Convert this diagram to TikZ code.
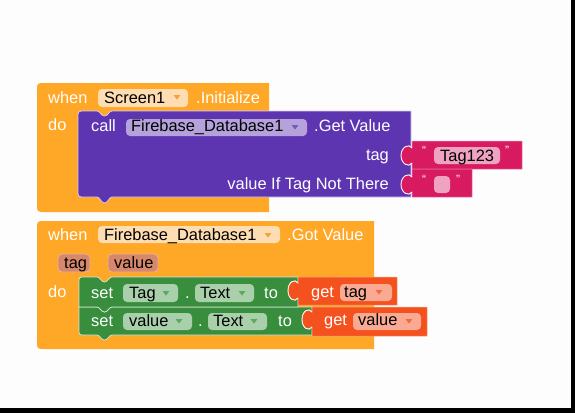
\documentclass[tikz,border=0pt]{standalone}
\usepackage{fontspec}
\setmainfont{Liberation Sans}
\newcommand\blkfont{\fontsize{16.4}{18}\selectfont}
\newcommand\qfont{\fontsize{12}{12}\selectfont}
\definecolor{bgc}{HTML}{FDFDFD}
\definecolor{orng}{HTML}{FFA726}
\definecolor{orngfld}{HTML}{FFDDB2}
\definecolor{orngarr}{HTML}{F6A238}
\definecolor{purp}{HTML}{5E35B1}
\definecolor{purpbd}{HTML}{D6CCF0}
\definecolor{purpfld}{HTML}{B5A2DB}
\definecolor{purparr}{HTML}{7857C2}
\definecolor{pnk}{HTML}{D81B60}
\definecolor{pnkbd}{HTML}{F08AB0}
\definecolor{pnkfld}{HTML}{F0A3C0}
\definecolor{grn}{HTML}{388E3C}
\definecolor{grnbd}{HTML}{D4E8D5}
\definecolor{grnfld}{HTML}{A9D0AB}
\definecolor{grnarr}{HTML}{5DA861}
\definecolor{dorg}{HTML}{F4511E}
\definecolor{dorgbd}{HTML}{FBA88C}
\definecolor{dorgfld}{HTML}{FAAA92}
\definecolor{dorgarr}{HTML}{F26A3E}
\definecolor{chipc}{HTML}{D7876A}
\definecolor{chipbd}{HTML}{EDB49C}
\newcommand\darr[3]{\fill[#1] (#2-3.5,#3-2) -- (#2+3.5,#3-2) -- (#2,#3+2.5) -- cycle;}
\begin{document}
\begin{tikzpicture}[x=1pt,y=-1pt,
  lbl/.style={text=white, inner sep=0pt, anchor=base west, font=\blkfont},
  lblr/.style={text=white, inner sep=0pt, anchor=base east, font=\blkfont},
  ftx/.style={text=black, inner sep=0pt, anchor=base west, font=\blkfont},
  qt/.style={text=white, inner sep=0pt, anchor=north west, font=\qfont},
  fld/.style={rounded corners=4pt},
  tabhl/.style={draw=white, line width=0.8pt}]
\useasboundingbox (0,0) rectangle (575,413);
\fill[bgc] (0,0) rectangle (575,413);
\fill[black] (570.5,0) rectangle (575,413);
\fill[black] (0,408) rectangle (575,413);

% ---------- Block 1 ----------
\fill[orng] (269,83) -- (45,83) .. controls (37,83) .. (37,91) -- (37,204) .. controls (37,212) .. (45,212) -- (269,212) -- cycle;
\fill[orngfld, fld] (98,89) rectangle (188,107);
\darr{orngarr}{177}{97}
\node[lbl] (w1) at (48,103) {when};
\node[ftx] (s1) at (104,103) {Screen1};
\node[lbl] (i1) at (196,103) {.Initialize};
\node[lbl] (d1) at (48,130) {do};

\filldraw[fill=purp, draw=purpbd, line width=0.8pt] (411,111) -- (112,111) .. controls (109,111) and (108,116) .. (104.5,116) .. controls (101,116) and (100,111) .. (97,111) -- (85,111) .. controls (78,111) .. (78,118) -- (78,190) .. controls (78,197) .. (85,197) -- (97,197) .. controls (100,197) and (101,203) .. (104.5,203) .. controls (108,203) and (109,197) .. (112,197) -- (411,197) -- cycle;
\fill[purpfld, fld] (126,119) rectangle (307,136);
\darr{purparr}{295}{127}
\node[lbl] (c1) at (91,131) {call};
\node[ftx] (f1) at (131,131) {Firebase\_Database1};
\node[lbl] (g1) at (314,131) {.Get Value};
\node[lblr] (tg) at (389,160) {tag};
\node[lblr] (vt) at (389,189) {value If Tag Not There};

% pink text blocks
\filldraw[fill=pnk, draw=pnkbd, line width=0.5pt] (412,141) -- (522,141) -- (522,169) -- (412,169) -- (412,163) .. controls (409,168) and (401,164) .. (401,155.5) .. controls (401,147) and (409,143) .. (412,148) -- cycle;
\draw[tabhl] (412,163) .. controls (409,168) and (401,164) .. (401,155.5) .. controls (401,147) and (409,143) .. (412,148);
\fill[pnkfld, fld] (434,147) rectangle (500,164);
\node[qt] (q1) at (422,146.5) {“};
\node[ftx] (t123) at (440,161) {Tag123};
\node[qt] (q2) at (505,146.5) {”};

\filldraw[fill=pnk, draw=pnkbd, line width=0.5pt] (412,169) -- (472,169) -- (472,197) -- (412,197) -- (412,192) .. controls (409,197) and (401,193) .. (401,184.5) .. controls (401,176) and (409,172) .. (412,177) -- cycle;
\draw[tabhl] (412,192) .. controls (409,197) and (401,193) .. (401,184.5) .. controls (401,176) and (409,172) .. (412,177);
\fill[pnkfld, fld] (434,176) rectangle (450,193);
\node[qt] (q3) at (422,175.5) {“};
\node[qt] (q4) at (456,175.5) {”};

% ---------- Block 2 ----------
\fill[orng] (374,221) -- (45,221) .. controls (37,221) .. (37,229) -- (37,341) .. controls (37,349) .. (45,349) -- (374,349) -- cycle;
\fill[orngfld, fld] (98,226) rectangle (280,243);
\darr{orngarr}{268}{235}
\node[lbl] (w2) at (48,240) {when};
\node[ftx] (f2) at (104,240) {Firebase\_Database1};
\node[lbl] (gv) at (287,240) {.Got Value};
\filldraw[fill=chipc, draw=chipbd, line width=0.8pt, fld] (58,254) rectangle (90,272);
\node[ftx] (p1) at (64,268) {tag};
\filldraw[fill=chipc, draw=chipbd, line width=0.8pt, fld] (108,254) rectangle (158,272);
\node[ftx] (p2) at (114,268) {value};
\node[lbl] (d2) at (48,297) {do};

% set 2 (drawn first)
\filldraw[fill=grn, draw=grnbd, line width=0.7pt] (312,307) -- (112,307) .. controls (109,307) and (108,312) .. (104.5,312) .. controls (101,312) and (100,307) .. (97,307) -- (79,307) -- (79,329) .. controls (79,335) .. (85,335) -- (97,335) .. controls (100,335) and (101,340) .. (104.5,340) .. controls (108,340) and (109,335) .. (112,335) -- (312,335) -- cycle;
% set 1
\filldraw[fill=grn, draw=grnbd, line width=0.7pt] (298,277) -- (112,277) .. controls (109,277) and (108,282) .. (104.5,282) .. controls (101,282) and (100,277) .. (97,277) -- (85,277) .. controls (79,277) .. (79,283) -- (79,307) -- (97,307) .. controls (100,307) and (101,312) .. (104.5,312) .. controls (108,312) and (109,307) .. (112,307) -- (298,307) -- cycle;

\fill[grnfld, fld] (123,284) rectangle (178,302);
\darr{grnarr}{166}{293}
\fill[grnfld, fld] (195,284) rectangle (254,302);
\darr{grnarr}{242}{293}
\node[lbl] (st1) at (91,298) {set};
\node[ftx] (tf1) at (129,298) {Tag};
\node[lbl] (dt1) at (185,298) {.};
\node[ftx] (tx1) at (200,298) {Text};
\node[lbl] (to1) at (264,298) {to};

\fill[grnfld, fld] (123,313) rectangle (192,330);
\darr{grnarr}{179}{321}
\fill[grnfld, fld] (208,313) rectangle (267,330);
\darr{grnarr}{254}{321}
\node[lbl] (st2) at (91,326) {set};
\node[ftx] (tf2) at (129,326) {value};
\node[lbl] (dt2) at (198,326) {.};
\node[ftx] (tx2) at (213,326) {Text};
\node[lbl] (to2) at (278,326) {to};

% get blocks
\filldraw[fill=dorg, draw=dorgbd, line width=0.5pt] (298,277) -- (397,277) -- (397,305) -- (298,305) -- (298,298) .. controls (295,303) and (288,299) .. (288,290.5) .. controls (288,282) and (295,278) .. (298,283) -- cycle;
\draw[tabhl] (298,298) .. controls (295,303) and (288,299) .. (288,290.5) .. controls (288,282) and (295,278) .. (298,283);
\fill[dorgfld, fld] (340,284) rectangle (392,301);
\darr{dorgarr}{379}{292}
\node[lbl] (ge1) at (311,297) {get};
\node[ftx] (gt1) at (344,297) {tag};

\filldraw[fill=dorg, draw=dorgbd, line width=0.5pt] (312,307) -- (427,307) -- (427,336) -- (312,336) -- (312,327) .. controls (309,332) and (302,328) .. (302,319.5) .. controls (302,311) and (309,307) .. (312,312) -- cycle;
\draw[tabhl] (312,327) .. controls (309,332) and (302,328) .. (302,319.5) .. controls (302,311) and (309,307) .. (312,312);
\fill[dorgfld, fld] (353,313) rectangle (421,330);
\darr{dorgarr}{409}{321}
\node[lbl] (ge2) at (324,325) {get};
\node[ftx] (gt2) at (358,325) {value};
\end{tikzpicture}
\end{document}
